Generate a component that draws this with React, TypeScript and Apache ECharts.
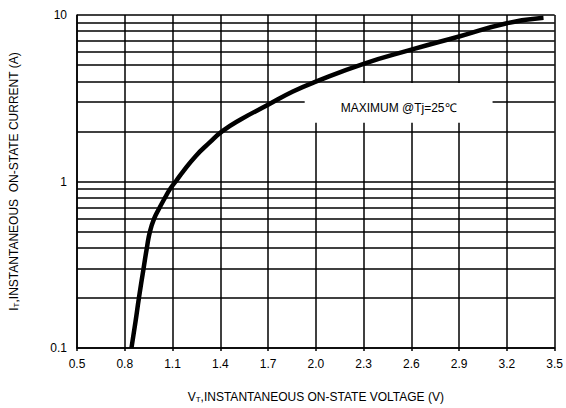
import React, { useEffect, useRef } from "react";
import * as echarts from "echarts";

const voltage = [0.842, 0.868, 0.889, 0.918, 0.939, 0.958, 0.985, 1.02, 1.053, 1.084, 1.12, 1.161, 1.245, 1.332, 1.411, 1.525, 1.7, 1.856, 2.0, 2.3, 2.6, 2.9, 3.2, 3.43];
const current = [0.1, 0.145, 0.2, 0.3, 0.4, 0.5, 0.6, 0.7, 0.8, 0.9, 1.0, 1.13, 1.42, 1.71, 2.0, 2.35, 2.89, 3.47, 3.98, 5.09, 6.19, 7.43, 8.93, 9.64];
const xTicks = [0.5, 0.8, 1.1, 1.4, 1.7, 2.0, 2.3, 2.6, 2.9, 3.2, 3.5];
const yGrid = [0.1, 0.2, 0.3, 0.4, 0.5, 0.6, 0.7, 0.8, 0.9, 1, 2, 3, 4, 5, 6, 7, 8, 9, 10];
const boxX = [1.93, 3.11];
const boxY = [3.9, 2.25];
const boxText = "MAXIMUM @Tj=25℃";

const FONT = "'Liberation Sans', Arial, sans-serif";

export default function App() {
  const ref = useRef<HTMLDivElement>(null);
  useEffect(() => {
    if (!ref.current) return;
    const chart = echarts.init(ref.current, undefined, { renderer: "svg" });
    const gridStyle = { color: "#000", width: 1.5, type: "solid" as const };
    chart.setOption({
      animation: false,
      textStyle: { fontFamily: FONT },
      grid: { left: 75, right: 8.5, top: 15, bottom: 59 },
      xAxis: {
        type: "value",
        min: 0.5,
        max: 3.5,
        name: "{b|V}{s|T}{b|,INSTANTANEOUS ON-STATE VOLTAGE (V)}",
        nameLocation: "middle",
        nameGap: 43,
        nameTextStyle: {
          rich: {
            b: { fontSize: 12, color: "#000", fontFamily: FONT },
            s: { fontSize: 8, color: "#000", fontFamily: FONT, verticalAlign: "bottom", padding: [4, 0, 0, 0] },
          },
        },
        axisLine: { show: true, lineStyle: { color: "#000", width: 1.5 } },
        axisTick: { show: true, length: 3, customValues: xTicks, lineStyle: { color: "#000", width: 1.5 } },
        axisLabel: {
          customValues: xTicks,
          color: "#000",
          fontSize: 12,
          fontFamily: FONT,
          margin: 10,
          formatter: (v: number) => v.toFixed(1),
        },
        splitLine: { show: false },
      },
      yAxis: {
        type: "log",
        logBase: 10,
        min: 0.1,
        max: 10,
        interval: 1,
        name: "{b|I}{s|T}{b|,INSTANTANEOUS  ON-STATE CURRENT (A)}",
        nameLocation: "middle",
        nameGap: 57,
        nameTextStyle: {
          rich: {
            b: { fontSize: 12, color: "#000", fontFamily: FONT },
            s: { fontSize: 8, color: "#000", fontFamily: FONT, verticalAlign: "bottom", padding: [4, 0, 0, 0] },
          },
        },
        axisLine: { show: true, lineStyle: { color: "#000", width: 1.5 } },
        axisTick: { show: false },
        axisLabel: {
          color: "#000",
          fontSize: 12,
          fontFamily: FONT,
          margin: 10,
          formatter: (v: number) => (v >= 1 ? String(Math.round(v)) : String(v)),
        },
        splitLine: { show: false },
      },
      series: [
        {
          type: "line",
          data: [],
          z: 1,
          silent: true,
          markLine: {
            silent: true,
            symbol: "none",
            label: { show: false },
            lineStyle: gridStyle,
            data: [
              ...xTicks.map((v) => ({ xAxis: v })),
              ...yGrid.map((v) => ({ yAxis: v })),
            ],
          },
        },
        {
          type: "custom",
          z: 5,
          silent: true,
          data: [[boxX[0], boxY[0], boxX[1], boxY[1]]],
          encode: { x: [0, 2], y: [1, 3] },
          renderItem: (params: any, api: any) => {
            const p1 = api.coord([api.value(0), api.value(1)]);
            const p2 = api.coord([api.value(2), api.value(3)]);
            const x = Math.min(p1[0], p2[0]);
            const y = Math.min(p1[1], p2[1]);
            const w = Math.abs(p2[0] - p1[0]);
            const h = Math.abs(p2[1] - p1[1]);
            return {
              type: "group",
              children: [
                { type: "rect", shape: { x, y, width: w, height: h }, style: { fill: "#fff" } },
                {
                  type: "text",
                  style: {
                    x: x + w / 2,
                    y: y + h / 2 + 5,
                    text: boxText,
                    fill: "#000",
                    font: "12px " + FONT,
                    align: "center",
                    verticalAlign: "middle",
                  },
                },
              ],
            };
          },
        },
        {
          type: "line",
          z: 10,
          smooth: 0.5,
          symbol: "none",
          lineStyle: { color: "#000", width: 4.5 },
          data: voltage.map((v, i) => [v, current[i]]),
        },
      ],
    });
    return () => chart.dispose();
  }, []);
  return <div ref={ref} style={{ width: 566, height: 408, position: "absolute", left: 0, top: 0 }} />;
}
